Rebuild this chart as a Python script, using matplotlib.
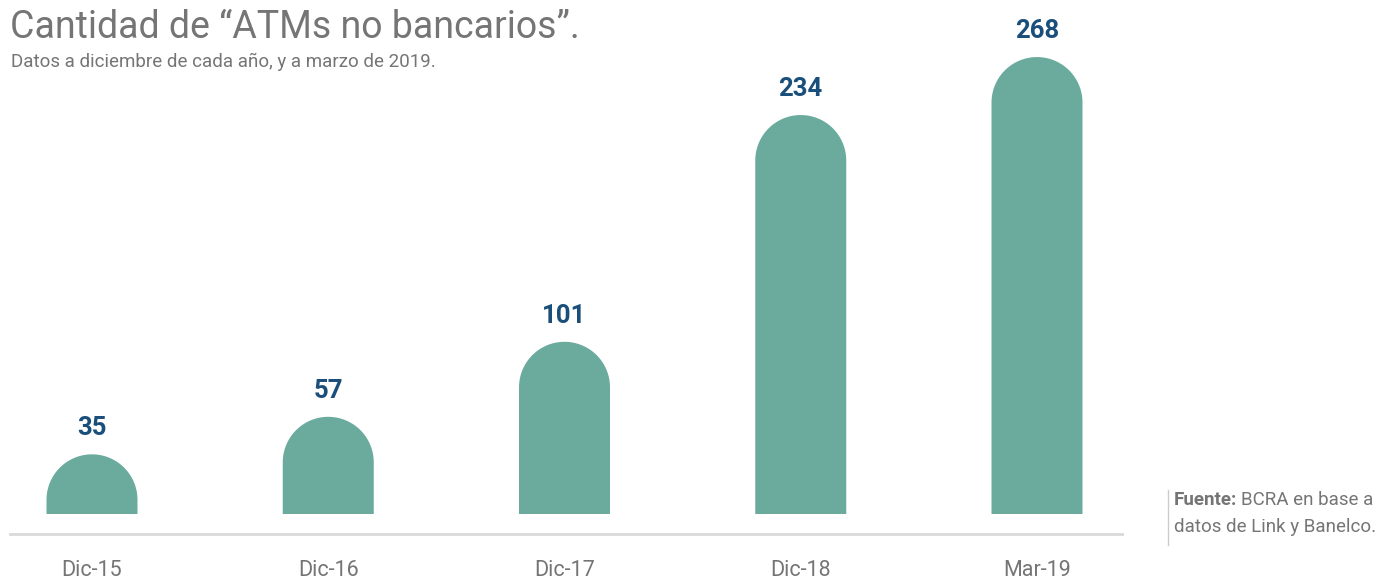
import numpy as np
import matplotlib.pyplot as plt
from matplotlib.path import Path
from matplotlib.patches import PathPatch

categories = ['Dic-15', 'Dic-16', 'Dic-17', 'Dic-18', 'Mar-19']
values = [35, 57, 101, 234, 268]

bar_color = '#6aab9e'
label_color = '#1b4f7b'
grey = '#757575'

plt.rcParams['font.family'] = ['Roboto', 'DejaVu Sans']

W, H = 1380, 579
fig = plt.figure(figsize=(W / 100, H / 100), dpi=100)

# axes in pixel terms: x 10..1122, y (from top) 20..534
ax_l, ax_r, ax_t, ax_b = 10, 1122, 20, 534
ax = fig.add_axes([ax_l / W, (H - ax_b) / H, (ax_r - ax_l) / W, (ax_b - ax_t) / H])

px_per_unit = 1.705
base_px = 514
ax.set_ylim(-(ax_b - base_px) / px_per_unit, (base_px - ax_t) / px_per_unit)
step_px = 236.25
ax.set_xlim(-(92 - ax_l) / step_px, len(values) - 1 + (ax_r - 1037) / step_px)

bar_w = 91 / step_px
rx = bar_w / 2
ry = (91 / 2) / px_per_unit

x = np.arange(len(values))
for xi, v in zip(x, values):
    t = np.linspace(np.pi, 0, 60)
    arc = np.column_stack([xi + rx * np.cos(t), (v - ry) + ry * np.sin(t)])
    verts = [(xi - rx, 0)] + [tuple(p) for p in arc] + [(xi + rx, 0), (xi - rx, 0)]
    codes = [Path.MOVETO] + [Path.LINETO] * (len(verts) - 2) + [Path.CLOSEPOLY]
    ax.add_patch(PathPatch(Path(verts, codes), facecolor=bar_color, edgecolor='none'))
    ax.text(xi, v + 26 / px_per_unit, str(v), ha='center', va='center',
            fontsize=18.5, fontweight='bold', color=label_color)

for s in ['top', 'right', 'left']:
    ax.spines[s].set_visible(False)
ax.spines['bottom'].set_color('#d9d9d9')
ax.spines['bottom'].set_linewidth(2)
ax.set_yticks([])
ax.set_xticks(x)
ax.set_xticklabels(categories, fontsize=15.5, color=grey)
ax.tick_params(axis='x', length=0, pad=19)

fig.text(10 / W, 1 - 27 / H, 'Cantidad de \u201cATMs no bancarios\u201d.', fontsize=27,
         color=grey, ha='left', va='center')
fig.text(11 / W, 1 - 62 / H, 'Datos a diciembre de cada año, y a marzo de 2019.', fontsize=13.5,
         color=grey, ha='left', va='center')

src1 = fig.text(1174 / W, 1 - 500 / H, 'Fuente:', fontsize=13.5, fontweight='bold',
                color=grey, ha='left', va='center')
ax.annotate('BCRA en base a', xy=(1, 0.5), xycoords=src1, xytext=(3, 0),
            textcoords='offset points', fontsize=13.5, color=grey, ha='left', va='center')
fig.add_artist(plt.Line2D([1168 / W, 1168 / W], [1 - 490 / H, 1 - 545 / H], color='#cccccc', lw=1))
fig.text(1174 / W, 1 - 527 / H, 'datos de Link y Banelco.', fontsize=13.5, color=grey,
         ha='left', va='center')

fig.savefig('out.png', dpi=100)
